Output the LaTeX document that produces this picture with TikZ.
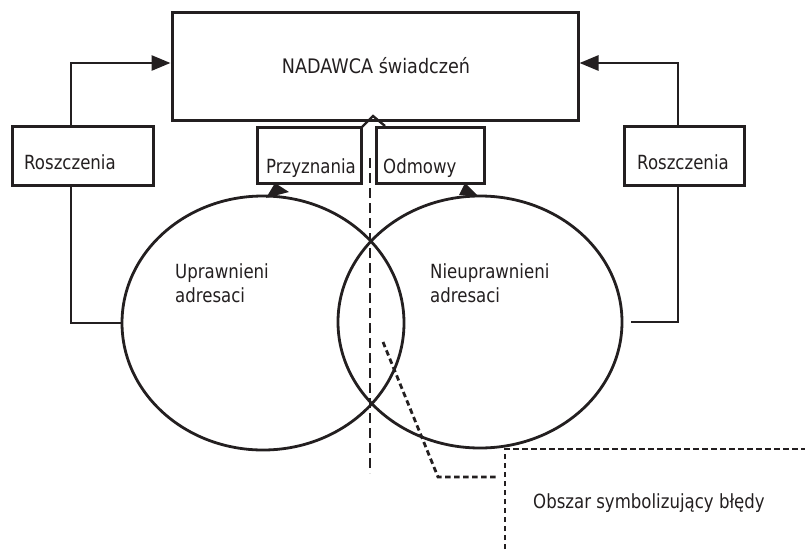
\documentclass[tikz,border=0pt]{standalone}
\usepackage{fontspec}
\setmainfont{DejaVu Sans}[FakeStretch=0.85]
\usetikzlibrary{arrows.meta,shapes.geometric}
\definecolor{ink}{HTML}{231F20}
\begin{document}
\begin{tikzpicture}[x=1pt,y=-1pt,
  box/.style={draw=ink,line width=3pt,rectangle,inner sep=0pt},
  oval/.style={draw=ink,line width=2.8pt,ellipse,inner sep=0pt},
  lbl/.style={inner sep=0pt,anchor=base west,text=ink,font=\fontsize{19.5}{23}\selectfont},
  conn/.style={draw=ink,line width=2.8pt},
  bigtip/.style={-{Triangle[length=19pt,width=15pt]}},
  longdash/.style={draw=ink,line width=2.8pt,dash pattern=on 10pt off 5pt},
  shortdash/.style={draw=ink,line width=2.8pt,dash pattern=on 5.5pt off 3.5pt}]
\useasboundingbox (0,0) rectangle (805,549);
% boxes
\node[box,minimum width=406pt,minimum height=108pt] (main) at (375,66) {};
\node[box,minimum width=141pt,minimum height=59pt] (lbox) at (82.5,155.5) {};
\node[box,minimum width=120pt,minimum height=59pt] (rbox) at (684,155.5) {};
\node[box,minimum width=104pt,minimum height=56pt] (pbox) at (309,155) {};
\node[box,minimum width=108pt,minimum height=56pt] (obox) at (430,155) {};
% ellipses
\node[oval,minimum width=282pt,minimum height=254pt] (lcirc) at (263,323) {};
\node[oval,minimum width=284pt,minimum height=252pt] (rcirc) at (480,322) {};
% texts
\node[lbl,anchor=base,font=\fontsize{20}{24}\selectfont\addfontfeatures{FakeStretch=0.88}] (tmain) at (376,73) {NADAWCA świadczeń};
\node[lbl] (tl) at (24,169) {Roszczenia};
\node[lbl] (tr) at (637,169) {Roszczenia};
\node[lbl] (tp) at (266,173) {Przyznania};
\node[lbl] (to) at (383,173) {Odmowy};
\node[lbl] (tu1) at (175,278) {Uprawnieni};
\node[lbl] (tu2) at (175,302) {adresaci};
\node[lbl] (tn1) at (430,278) {Nieuprawnieni};
\node[lbl] (tn2) at (430,302) {adresaci};
\node[lbl] (tb) at (533,508) {Obszar symbolizujący błędy};
% connectors
\coordinate (lx) at (71,0);
\coordinate (rx) at (678,0);
\draw[conn,bigtip] (lbox.north -| lx) |- ([yshift=3pt]main.west);
\draw[conn] (lbox.south -| lx) |- (lcirc.west);
\draw[conn,bigtip] (rbox.north -| rx) |- ([yshift=3pt]main.east);
\draw[conn,shorten >=8pt] (rbox.south -| rx) |- (rcirc.east);
% small arrows from ellipses to boxes
\coordinate (pt) at (275,183);
\coordinate (ot) at (465,183);
\fill[ink] (pt) -- (266,198) -- (289,192) -- cycle;
\fill[ink] (ot) -- (459,195) -- (478,196) -- cycle;
% chevron
\coordinate (c1) at (362,127);
\coordinate (c2) at (373,116);
\coordinate (c3) at (385,126);
\draw[conn,line width=2.4pt] (c1) -- (c2) -- (c3);
% dashed lines
\coordinate (d1) at (370,158);
\coordinate (d2) at (370,473);
\draw[longdash] (d1) -- (d2);
\coordinate (e1) at (383,342);
\coordinate (e2) at (438,477);
\coordinate (e3) at (498,477);
\draw[shortdash] (e1) -- (e2) -- (e3);
\coordinate (f1) at (505,549);
\coordinate (f2) at (505,449);
\coordinate (f3) at (805,449);
\draw[shortdash] (f1) -- (f2) -- (f3);
\end{tikzpicture}
\end{document}
